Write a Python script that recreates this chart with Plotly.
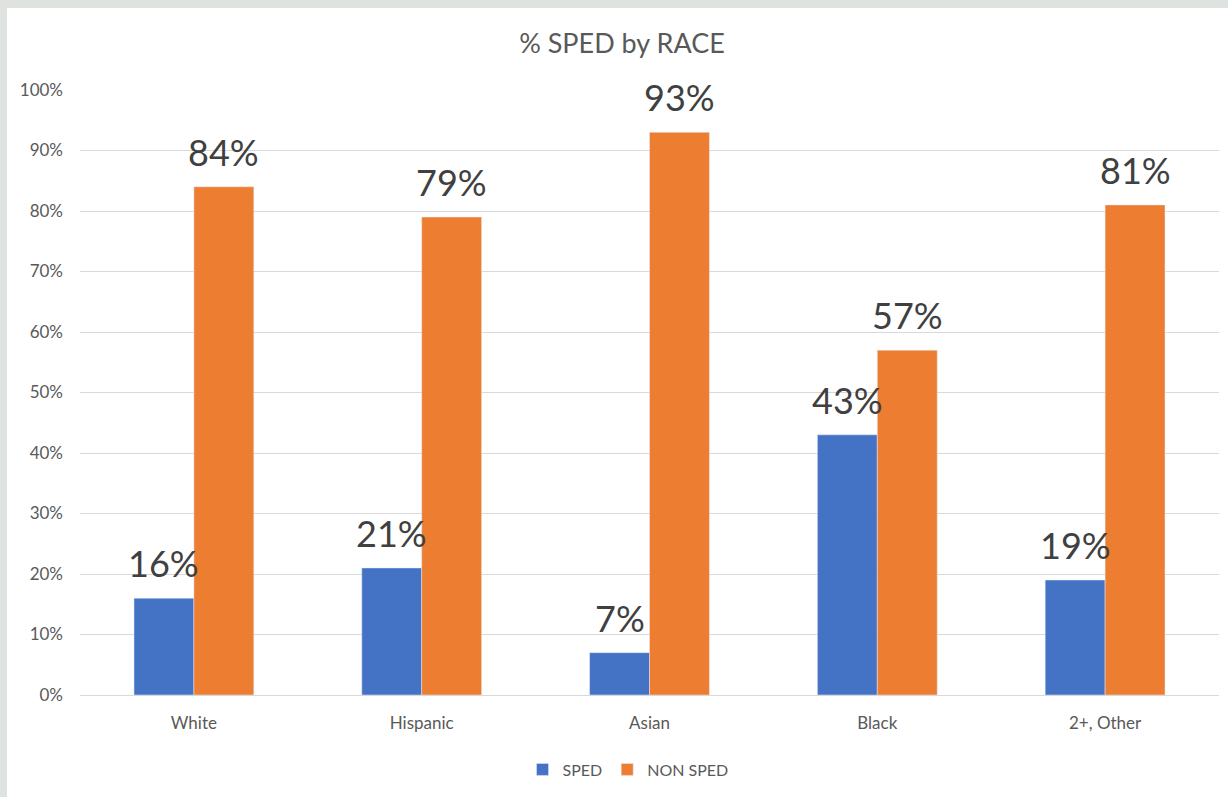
import plotly.graph_objects as go

# Chart data
races = ["White", "Hispanic", "Asian", "Black", "2+, Other"]
sped = [16, 21, 7, 43, 19]
non_sped = [84, 79, 93, 57, 81]
y_ticks = [0, 10, 20, 30, 40, 50, 60, 70, 80, 90, 100]

W, H = 1228, 797
ML, MR, MT, MB = 80, 9, 90, 102
PW, PH = W - ML - MR, H - MT - MB
BARGAP = 0.474

font_family = "Lato, 'Open Sans', sans-serif"
label_font = dict(size=36, color="#404040", family=font_family)

fig = go.Figure()
fig.add_trace(go.Bar(name="SPED", x=races, y=sped, marker_color="#4472C4"))
fig.add_trace(go.Bar(name="NON SPED", x=races, y=non_sped, marker_color="#ED7D31"))

# value labels centred over each bar of the pair
half_bar = PW / len(races) * (1 - BARGAP) / 4
for series, shift in ((sped, -half_bar), (non_sped, half_bar)):
    for race, v in zip(races, series):
        fig.add_annotation(x=race, y=v, text=f"{v}%", showarrow=False,
                           xshift=shift, yshift=35, yanchor="middle",
                           font=label_font)

# textured surround: thin grey strips along the left and top edges
def px_x(p):
    return (p - ML) / PW

def px_y(p):
    return (H - MB - p) / PH

fig.add_shape(type="rect", xref="paper", yref="paper", layer="below",
              x0=px_x(0), x1=px_x(7), y0=px_y(H), y1=px_y(0),
              fillcolor="#dfe3df", line_width=0)
fig.add_shape(type="rect", xref="paper", yref="paper", layer="below",
              x0=px_x(0), x1=px_x(W), y0=px_y(8), y1=px_y(0),
              fillcolor="#dfe3df", line_width=0)

fig.update_layout(
    width=W, height=H,
    margin=dict(l=ML, r=MR, t=MT, b=MB),
    paper_bgcolor="white", plot_bgcolor="white",
    barmode="group", bargap=BARGAP, bargroupgap=0,
    title=dict(text="% SPED by RACE", x=622 / W, xref="container", xanchor="center",
               y=1 - 44 / H, yanchor="middle",
               font=dict(size=27, color="#595959", family=font_family)),
    font=dict(family=font_family, color="#595959"),
    legend=dict(orientation="h", x=px_x(628), xanchor="center", y=-0.095, yanchor="top",
                font=dict(size=16, color="#595959"), itemwidth=30,
                traceorder="normal"),
    showlegend=True,
)
fig.update_yaxes(range=[0, 100], tickvals=y_ticks,
                 ticktext=[f"{v}%" for v in y_ticks],
                 showgrid=True, gridcolor="#d9d9d9", gridwidth=1,
                 zeroline=True, zerolinecolor="#d9d9d9", zerolinewidth=1,
                 showline=False, ticks="", ticklabelstandoff=16,
                 tickfont=dict(size=17, color="#595959"))
fig.update_xaxes(showline=False, ticks="", ticklabelstandoff=16,
                 tickfont=dict(size=17, color="#595959"))

fig.write_html("out.html")
